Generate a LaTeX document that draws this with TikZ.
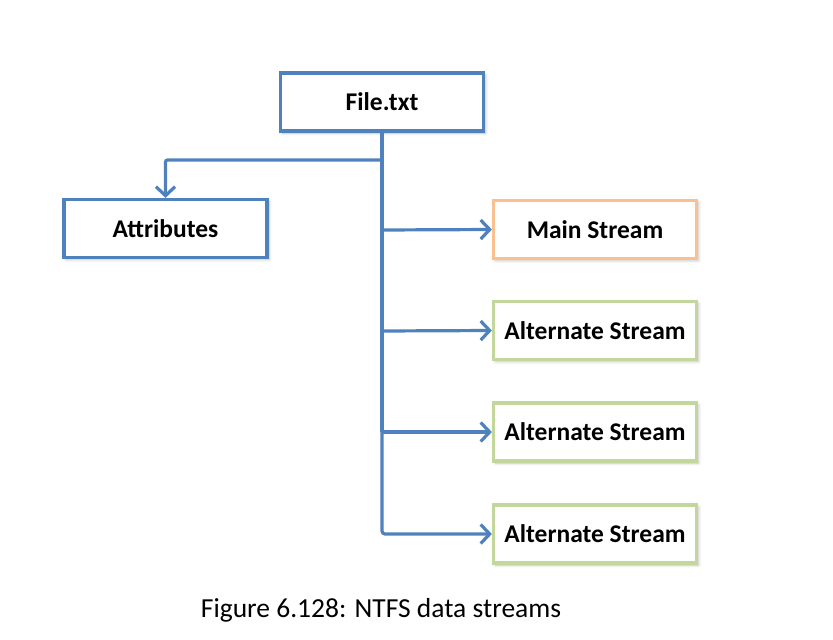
\documentclass[tikz,border=0pt]{standalone}
\usepackage{fontspec}
\setmainfont{Carlito}
\usetikzlibrary{arrows.meta,shadows.blur}
\definecolor{lblue}{RGB}{79,129,189}
\definecolor{lorange}{RGB}{250,192,143}
\definecolor{lgreen}{RGB}{195,214,155}
\tikzset{
  box/.style={draw=lblue, line width=3.2pt, fill=white, minimum width=203pt, minimum height=58pt, inner sep=0pt, font=\fontsize{25.5}{30}\selectfont\bfseries, text=black,
    blur shadow={shadow blur steps=6, shadow xshift=2pt, shadow yshift=-2pt, shadow opacity=25, shadow blur radius=3pt}},
  mainbox/.style={box, draw=lorange},
  altbox/.style={box, draw=lgreen},
  conn/.style={draw=lblue, line width=3.2pt},
  arr/.style={conn, -{Straight Barb[length=9pt,width=19pt,line width=3.2pt]}},
}
\begin{document}
\begin{tikzpicture}[x=1pt,y=-1pt]
\useasboundingbox (0,0) rectangle (833,640);
\node[box] (file) at (382,102) {File.txt};
\node[box] (attr) at (165.5,228.5) {Attributes};
\node[mainbox] (main) at (595,229.5) {Main Stream};
\node[altbox] (alt1) at (595,330.5) {Alternate Stream};
\node[altbox] (alt2) at (595,432) {Alternate Stream};
\node[altbox] (alt3) at (595,534) {Alternate Stream};
\coordinate (split) at (382,160);
\coordinate (b1) at (382,230);
\coordinate (b2) at (382,331);
\coordinate (b3) at (382,432);
\draw[conn] (file.south) -- (b3);
\draw[arr, rounded corners=2pt] (file.south) |- (split) -| (attr.north);
\draw[arr, rounded corners=3pt] (file.south) |- (alt3.west);
\draw[arr] (b1) -- (main.west);
\draw[arr] (b2) -- (alt1.west);
\draw[arr] (b3) -- (alt2.west);
\node[font=\fontsize{27.5}{32}\selectfont] (cap) at (381,610) {Figure 6.128: NTFS data streams};
\end{tikzpicture}
\end{document}
